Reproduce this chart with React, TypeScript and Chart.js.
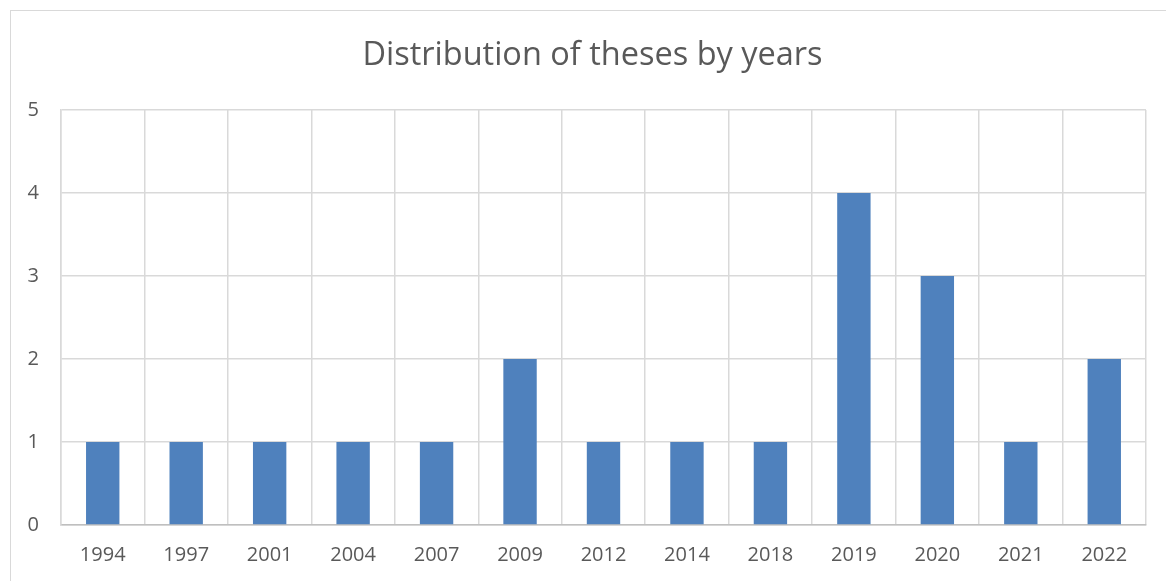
import React, { useEffect, useRef } from "react";
import { Chart, registerables } from "chart.js";

Chart.register(...registerables);

const years = ["1994", "1997", "2001", "2004", "2007", "2009", "2012", "2014", "2018", "2019", "2020", "2021", "2022"];
const theses = [1, 1, 1, 1, 1, 2, 1, 1, 1, 4, 3, 1, 2];
const yTicks = [0, 1, 2, 3, 4, 5];
const titleText = "Distribution of theses by years";

const FONT = "'Open Sans', 'Noto Sans', sans-serif";
const TEXT = "#595959";
const GRID = "#d9d9d9";

export default function App() {
  const ref = useRef<HTMLCanvasElement | null>(null);
  useEffect(() => {
    if (!ref.current) return;
    const chart = new Chart(ref.current, {
      type: "bar",
      data: {
        labels: years,
        datasets: [
          {
            label: "Theses",
            data: theses,
            backgroundColor: "#4f81bd",
            borderWidth: 0,
            barPercentage: 0.4,
            categoryPercentage: 1,
          },
        ],
      },
      options: {
        responsive: false,
        animation: false,
        layout: { padding: { left: 19, right: 0, top: 0, bottom: 0 } },
        plugins: {
          legend: { display: false },
          tooltip: { enabled: false },
          title: {
            display: true,
            text: titleText,
            color: TEXT,
            font: { family: FONT, size: 32.5, weight: "normal", lineHeight: 1.2 },
            padding: { top: 36, bottom: 35 },
          },
        },
        scales: {
          x: {
            grid: { color: GRID, lineWidth: 1.5, offset: true, drawTicks: false },
            border: { color: "#bfbfbf", width: 1.5 },
            ticks: { color: TEXT, font: { family: FONT, size: 20 }, padding: 18, maxRotation: 0 },
            afterFit: (s: any) => {
              s.height = 56;
            },
          },
          y: {
            min: 0,
            max: 5,
            afterBuildTicks: (s: any) => {
              s.ticks = yTicks.map((v) => ({ value: v }));
            },
            grid: { color: GRID, lineWidth: 1.5, drawTicks: false },
            border: { color: GRID, width: 1.5 },
            ticks: { color: TEXT, font: { family: FONT, size: 20 }, padding: 22 },
            afterFit: (s: any) => {
              s.width = 42;
            },
          },
          yRight: {
            position: "right",
            min: 0,
            max: 5,
            grid: { display: false, drawOnChartArea: false },
            border: { display: false },
            ticks: { display: false },
            afterFit: (s: any) => {
              s.width = 20;
            },
          },
        },
      },
    });
    return () => chart.destroy();
  }, []);

  return (
    <div style={{ position: "fixed", left: 0, top: 0, width: 1166, height: 581, overflow: "hidden", background: "#fff" }}>
      <div
        style={{
          position: "absolute",
          left: 10,
          top: 10,
          width: 1170,
          height: 600,
          border: "1.5px solid #d9d9d9",
          boxSizing: "border-box",
        }}
      />
      <canvas ref={ref} width={1166} height={581} style={{ position: "absolute", left: 0, top: 0 }} />
    </div>
  );
}
